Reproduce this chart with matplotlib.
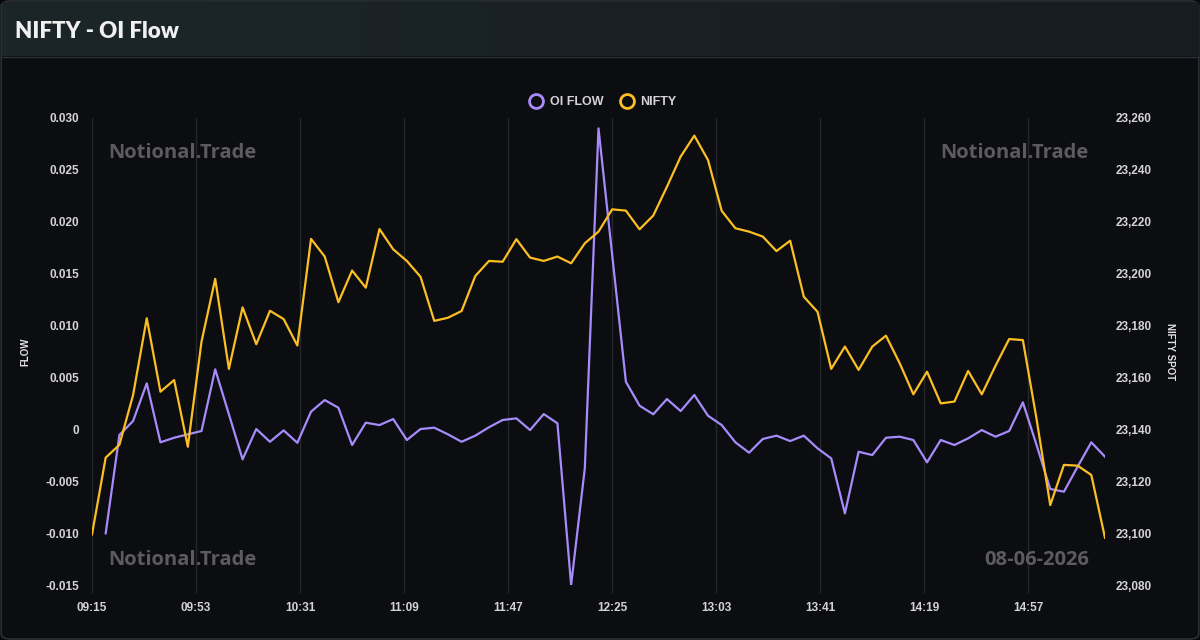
"""
NIFTY - OI Flow chart (dark card style).
"""

import numpy as np
import pandas as pd
import matplotlib

matplotlib.use("Agg")
import matplotlib.pyplot as plt
from matplotlib.lines import Line2D
from matplotlib.patches import FancyBboxPatch
from matplotlib.ticker import FuncFormatter, MultipleLocator

# --- data (5 minute bars from 09:15) ---
nifty = [
    23099.5, 23129.1, 23134.0, 23153.2, 23182.8, 23154.5, 23159.0, 23133.3,
    23173.8, 23198.0, 23163.3, 23187.0, 23172.8, 23185.7, 23182.5, 23172.3,
    23213.4, 23206.6, 23189.0, 23201.2, 23194.6, 23217.2, 23209.4, 23204.9,
    23198.8, 23181.8, 23183.0, 23185.6, 23199.1, 23204.9, 23204.6, 23213.3,
    23206.2, 23204.9, 23206.6, 23204.0, 23211.7, 23216.2, 23224.8, 23224.3,
    23217.1, 23222.4, 23233.5, 23245.1, 23253.2, 23243.8, 23224.2, 23217.5,
    23216.2, 23214.3, 23208.7, 23212.7, 23191.1, 23185.3, 23163.3, 23171.9,
    23162.9, 23171.9, 23176.1, 23165.5, 23153.5, 23162.2, 23150.0, 23150.7,
    23162.5, 23153.5, 23164.5, 23174.8, 23174.4, 23144.0, 23110.8, 23126.3,
    23126.0, 23122.4, 23098.2,
]

oi_flow = [
    np.nan, -0.01002, -0.00055, 0.00080, 0.00443, -0.00125, -0.00081, -0.00048,
    -0.00016, 0.00578, 0.00145, -0.00289, 0.00003, -0.00120, -0.00010, -0.00130,
    0.00170, 0.00282, 0.00208, -0.00151, 0.00064, 0.00041, 0.00099, -0.00103,
    0.00003, 0.00016, -0.00048, -0.00120, -0.00061, 0.00020, 0.00090, 0.00106,
    -0.00007, 0.00147, 0.00058, -0.01500, -0.00376, 0.02900, 0.01680, 0.00459,
    0.00228, 0.00145, 0.00292, 0.00176, 0.00331, 0.00131, 0.00041, -0.00125,
    -0.00225, -0.00093, -0.00061, -0.00113, -0.00061, -0.00183, -0.00280, -0.00810,
    -0.00216, -0.00248, -0.00081, -0.00071, -0.00103, -0.00318, -0.00103, -0.00151,
    -0.00087, -0.00007, -0.00071, -0.00016, 0.00260, -0.00151, -0.00575, -0.00601,
    -0.00360, -0.00125, -0.00264,
]

tick_labels = ["09:15", "09:53", "10:31", "11:09", "11:47",
               "12:25", "13:03", "13:41", "14:19", "14:57"]

DAY = "2026-06-08"
FLOW_COLOR = "#a78bfa"
NIFTY_COLOR = "#fbbf24"
BG = "#0c0d11"
TEXT = "#d4d4d8"
WATERMARK = "#5c5c5e"

times = pd.date_range(DAY + " 09:15", periods=len(nifty), freq="5min")
tick_times = pd.to_datetime([DAY + " " + t for t in tick_labels])

fig = plt.figure(figsize=(12, 6.4), dpi=100)
fig.patch.set_facecolor("#08090b")

# card background with rounded corners (behind everything)
card = FancyBboxPatch((0.001, 0.0015), 0.998, 0.997,
                      boxstyle="round,pad=0,rounding_size=0.008",
                      transform=fig.transFigure, facecolor=BG,
                      edgecolor="#2b3034", linewidth=1.2, zorder=-5)
fig.patches.append(card)

# header strip with a gentle gradient
hdr = fig.add_axes([0.0015, 1 - 56 / 640, 0.997, 54.5 / 640])
grad = np.linspace(0, 1, 256).reshape(1, -1)
hdr.imshow(grad, aspect="auto", extent=[0, 1, 0, 1],
           cmap=matplotlib.colors.LinearSegmentedColormap.from_list(
               "hdr", ["#1c2629", "#161c1f"]))
hdr.set_axis_off()
fig.add_artist(Line2D([0.0015, 0.9985], [1 - 56.5 / 640] * 2, transform=fig.transFigure,
                      color="#2a3236", linewidth=1))
fig.text(15 / 1200, 1 - 31 / 640, "NIFTY - OI Flow", color="#f0f0f0",
         fontsize=16, fontweight="heavy", family="Lato", va="center", ha="left")

# main axes
ax = fig.add_axes([92 / 1200, 1 - 585 / 640, (1105 - 92) / 1200, (585 - 118) / 640])
ax.set_facecolor("none")
ax2 = ax.twinx()

ax.plot(times, oi_flow, color=FLOW_COLOR, linewidth=1.6, zorder=3)
ax2.plot(times, nifty, color=NIFTY_COLOR, linewidth=1.6, zorder=3)

ax.set_xlim(times[0], times[-1])
ax.set_ylim(-0.015, 0.030)
ax2.set_ylim(23080, 23260)
ax.yaxis.set_major_locator(MultipleLocator(0.005))
ax2.yaxis.set_major_locator(MultipleLocator(20))
ax.yaxis.set_major_formatter(FuncFormatter(lambda v, p: "0" if abs(v) < 1e-9 else f"{v:.3f}"))
ax2.yaxis.set_major_formatter(FuncFormatter(lambda v, p: f"{v:,.0f}"))

ax.set_xticks(tick_times)
ax.set_xticklabels(tick_labels)
ax.grid(axis="x", color="#25272c", linewidth=1)
ax.grid(axis="y", visible=False)
ax2.grid(False)

for a in (ax, ax2):
    for s in a.spines.values():
        s.set_visible(False)
ax.tick_params(axis="x", length=6, color="#25272c", pad=6, labelsize=8.5,
               labelcolor=TEXT)
ax.tick_params(axis="y", length=0, pad=9, labelsize=8.5, labelcolor=TEXT)
ax2.tick_params(axis="y", length=0, pad=8, labelsize=8.5, labelcolor=TEXT)
for lbl in ax.get_xticklabels() + ax.get_yticklabels() + ax2.get_yticklabels():
    lbl.set_fontweight("bold")
    lbl.set_family("Liberation Sans")

ax.set_ylabel("FLOW", color="#e4e4e7", fontsize=7, fontweight="bold",
              family="Liberation Sans")
ax2.set_ylabel("NIFTY SPOT", color="#e4e4e7", fontsize=7, fontweight="bold",
               family="Liberation Sans", rotation=270, va="center")
ax.yaxis.set_label_coords((30 - 92) / 1013, 0.5)
ax2.yaxis.set_label_coords((1170 - 92) / 1013, 0.5)

# legend with hollow circles
handles = [
    Line2D([], [], linestyle="none", marker="o", markersize=10,
           markerfacecolor="none", markeredgecolor=FLOW_COLOR, markeredgewidth=2,
           label="OI FLOW"),
    Line2D([], [], linestyle="none", marker="o", markersize=10,
           markerfacecolor="none", markeredgecolor=NIFTY_COLOR, markeredgewidth=2,
           label="NIFTY"),
]
leg = fig.legend(handles=handles, loc="center", bbox_to_anchor=(0.5, 1 - 102 / 640),
                 ncol=2, frameon=False, handletextpad=0.1, columnspacing=0.9,
                 prop={"family": "Liberation Sans", "weight": "bold", "size": 9})
for t in leg.get_texts():
    t.set_color(TEXT)

# watermarks
wm = dict(color=WATERMARK, fontsize=14.5, fontweight="bold", family="Open Sans",
          va="center", zorder=1)
fig.text(108 / 1200, 1 - 153 / 640, "Notional.Trade", ha="left", **wm)
fig.text(1089 / 1200, 1 - 153 / 640, "Notional.Trade", ha="right", **wm)
fig.text(108 / 1200, 1 - 560 / 640, "Notional.Trade", ha="left", **wm)
fig.text(1089 / 1200, 1 - 560 / 640, "08-06-2026", ha="right", **wm)

fig.savefig("out.png", dpi=100, facecolor=fig.get_facecolor())
